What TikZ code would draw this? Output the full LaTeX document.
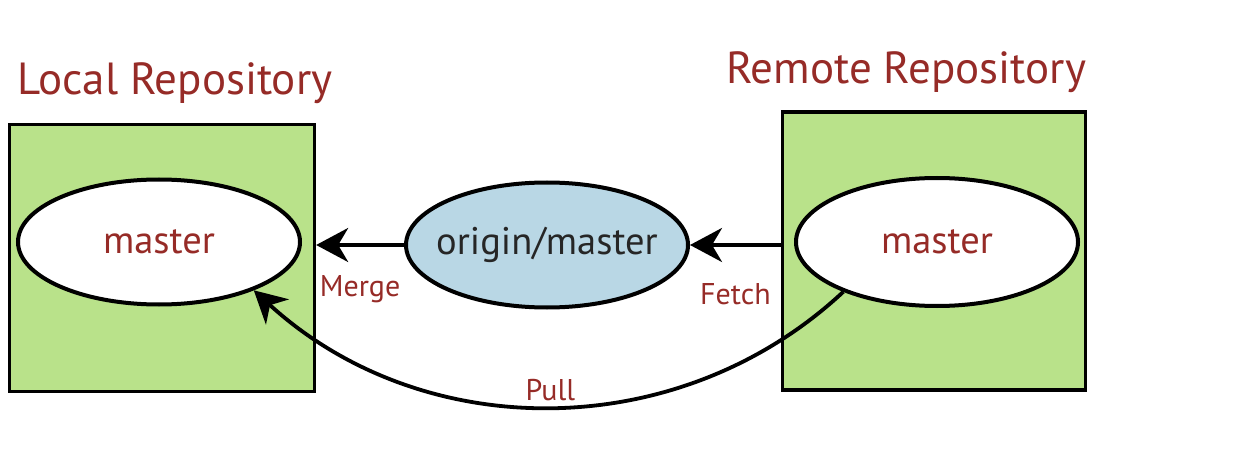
\documentclass[tikz,border=0pt]{standalone}
\usepackage{fontspec}
\setmainfont{PT Sans}
\usepackage{xcolor}
\usetikzlibrary{shapes.geometric,positioning,arrows.meta}

\definecolor{repogreen}{HTML}{B9E28A}
\definecolor{originblue}{HTML}{B9D7E5}
\definecolor{labelred}{HTML}{962B27}

\begin{document}
\begin{tikzpicture}[x=1pt, y=-1pt,
    repo/.style={draw, line width=3.3pt, fill=repogreen, minimum width=305pt, minimum height=267pt},
    branch/.style={ellipse, draw, line width=4pt, fill=white, inner sep=0pt, minimum width=282pt, minimum height=125pt,
        font=\fontsize{38.5}{40}\selectfont, text=labelred},
    title/.style={font=\fontsize{45}{48}\selectfont, text=labelred, anchor=base},
    op/.style={font=\fontsize{30}{32}\selectfont, text=labelred},
    flow/.style={line width=3.8pt, -{Stealth[length=32pt, width=34pt, inset=10pt]}}]

    \useasboundingbox (0,0) rectangle (1246,470);

    % the two repositories
    \node[repo] (localbox) at (162,258) {};
    \node[repo, minimum width=303pt, minimum height=278pt] (remotebox) at (934,251) {};
    \node[title] (localtitle) at (175,95) {Local Repository};
    \node[title] (remotetitle) at (906,84) {Remote Repository};

    % branches
    \node[branch] (localmaster) at (159,242) {master};
    \node[branch, minimum height=128pt] (remotemaster) at (937,242) {master};
    \node[branch, inner xsep=-12pt, fill=originblue, text=black!85] (origin) at (547,245) {origin/master};

    % fetch, merge and pull
    \draw[flow] (remotebox.west |- origin) -- node[op, below=33pt] {Fetch} (origin.east);
    \draw[flow] (origin.west) -- node[op, below=25pt] {Merge} (localbox.east |- origin);
    \draw[flow] (remotemaster.208) .. controls (679,445) and (423,445) .. node[op, above, pos=0.5] {Pull} (localmaster.-27);

\end{tikzpicture}
\end{document}
